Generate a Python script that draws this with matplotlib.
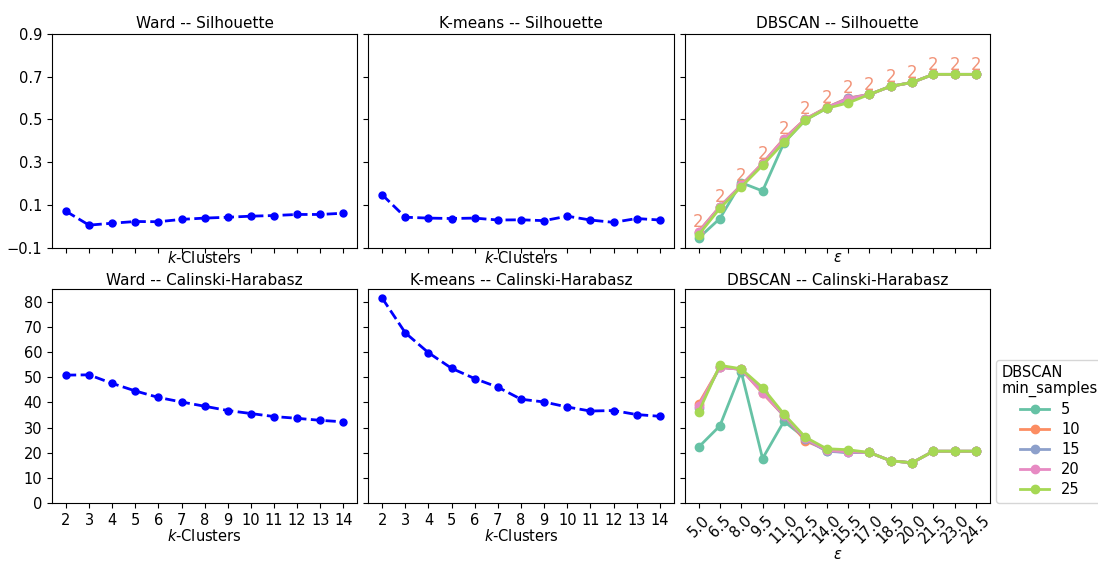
import matplotlib
matplotlib.use("Agg")
import matplotlib.pyplot as plt
import numpy as np

# cluster counts for Ward / K-means
k_values = list(range(2, 15))

ward_sil = [0.070, 0.005, 0.014, 0.022, 0.021, 0.032, 0.038, 0.042, 0.047, 0.050, 0.055, 0.055, 0.061]
kmeans_sil = [0.147, 0.042, 0.038, 0.036, 0.038, 0.029, 0.030, 0.026, 0.047, 0.029, 0.018, 0.036, 0.029]

ward_ch = [50.9, 51.0, 47.6, 44.6, 42.0, 40.2, 38.5, 36.8, 35.6, 34.4, 33.7, 32.9, 32.3]
kmeans_ch = [81.5, 67.7, 59.8, 53.6, 49.5, 46.1, 41.3, 40.2, 38.2, 36.6, 36.8, 35.2, 34.5]

# DBSCAN eps grid and min_samples settings
eps_values = [5.0, 6.5, 8.0, 9.5, 11.0, 12.5, 14.0, 15.5, 17.0, 18.5, 20.0, 21.5, 23.0, 24.5]
min_samples = [5, 10, 15, 20, 25]

dbscan_sil = {
    5:  [-0.056, 0.036, 0.204, 0.165, 0.390, 0.497, 0.552, 0.592, 0.617, 0.655, 0.673, 0.711, 0.711, 0.711],
    10: [-0.025, 0.092, 0.192, 0.295, 0.410, 0.502, 0.556, 0.600, 0.617, 0.655, 0.673, 0.711, 0.711, 0.711],
    15: [-0.030, 0.090, 0.190, 0.292, 0.405, 0.500, 0.555, 0.598, 0.617, 0.655, 0.673, 0.711, 0.711, 0.711],
    20: [-0.028, 0.091, 0.191, 0.293, 0.407, 0.501, 0.555, 0.596, 0.617, 0.655, 0.673, 0.711, 0.711, 0.711],
    25: [-0.041, 0.084, 0.184, 0.285, 0.392, 0.497, 0.552, 0.577, 0.617, 0.655, 0.673, 0.711, 0.711, 0.711],
}
dbscan_ch = {
    5:  [22.2, 30.7, 52.2, 17.7, 32.5, 25.8, 20.8, 20.1, 20.1, 16.8, 16.0, 20.6, 20.6, 20.6],
    10: [39.4, 54.0, 53.2, 43.7, 34.7, 24.7, 21.2, 20.5, 20.1, 16.8, 16.0, 20.6, 20.6, 20.6],
    15: [38.0, 54.0, 53.2, 44.3, 34.7, 25.4, 20.6, 20.1, 20.1, 16.8, 16.0, 20.6, 20.6, 20.6],
    20: [38.6, 54.0, 53.2, 43.9, 35.0, 25.7, 20.9, 20.4, 20.1, 16.8, 16.0, 20.6, 20.6, 20.6],
    25: [36.1, 54.8, 53.4, 45.9, 35.4, 26.2, 21.6, 21.2, 20.1, 16.8, 16.0, 20.6, 20.6, 20.6],
}
# number of clusters found (annotated above the silhouette curve)
dbscan_nclusters = [2] * 14

colors = ['#66c2a5', '#fc8d62', '#8da0cb', '#e78ac3', '#a6d854']

plt.rcParams['font.size'] = 10

fig, axes = plt.subplots(2, 3, figsize=(10.98, 5.61), dpi=100, sharex='col', sharey='row')
fig.subplots_adjust(left=0.0474, right=0.9016, top=0.9394, bottom=0.1034, wspace=0.036, hspace=0.196)

# Ward / K-means panels
for col, (name, sil, ch) in enumerate([('Ward', ward_sil, ward_ch), ('K-means', kmeans_sil, kmeans_ch)]):
    ax = axes[0, col]
    ax.plot(k_values, sil, color='blue', linestyle='--', marker='o', lw=2, markersize=5)
    ax.set_title(f'{name} -- Silhouette', fontsize=11, pad=4)
    ax.set_xlabel('$k$-Clusters', fontsize=10.5, labelpad=-2)

    ax = axes[1, col]
    ax.plot(k_values, ch, color='blue', linestyle='--', marker='o', lw=2, markersize=5)
    ax.set_title(f'{name} -- Calinski-Harabasz', fontsize=11, pad=3)
    ax.set_xlabel('$k$-Clusters', fontsize=10.5, labelpad=0)
    ax.set_xticks(k_values)

# DBSCAN silhouette
ax = axes[0, 2]
for ms, c in zip(min_samples, colors):
    ax.plot(eps_values, dbscan_sil[ms], color=c, marker='o', lw=2, markersize=6)
for x, y, n in zip(eps_values, dbscan_sil[10], dbscan_nclusters):
    ax.annotate(str(n), (x, y), xytext=(0, 0.5), textcoords='offset points',
                ha='center', va='bottom', color='#f29479', fontsize=12)
ax.set_title('DBSCAN -- Silhouette', fontsize=11, pad=4)
ax.set_xlabel(r'$\epsilon$', fontsize=10.5, labelpad=-2)

# DBSCAN Calinski-Harabasz
ax = axes[1, 2]
for ms, c in zip(min_samples, colors):
    ax.plot(eps_values, dbscan_ch[ms], color=c, marker='o', lw=2, markersize=6, label=str(ms))
ax.set_title('DBSCAN -- Calinski-Harabasz', fontsize=11, pad=3)
ax.set_xlabel(r'$\epsilon$', fontsize=10.5, labelpad=0)
ax.set_xticks(eps_values)
ax.set_xticklabels([f'{e:.1f}' for e in eps_values], rotation=45)
leg = ax.legend(title='DBSCAN\nmin_samples', loc='lower left', bbox_to_anchor=(1.02, 0),
                borderaxespad=0, fontsize=10.5, title_fontsize=10.5, labelspacing=0.35)
leg.get_title().set_linespacing(1.0)

axes[0, 0].set_ylim(-0.1, 0.9)
axes[0, 0].set_yticks([-0.1, 0.1, 0.3, 0.5, 0.7, 0.9])
axes[1, 0].set_ylim(0, 85)
axes[1, 0].set_yticks(range(0, 81, 10))

for ax in axes.flat:
    ax.tick_params(labelsize=10.5)

fig.savefig('out.png', dpi=100)
